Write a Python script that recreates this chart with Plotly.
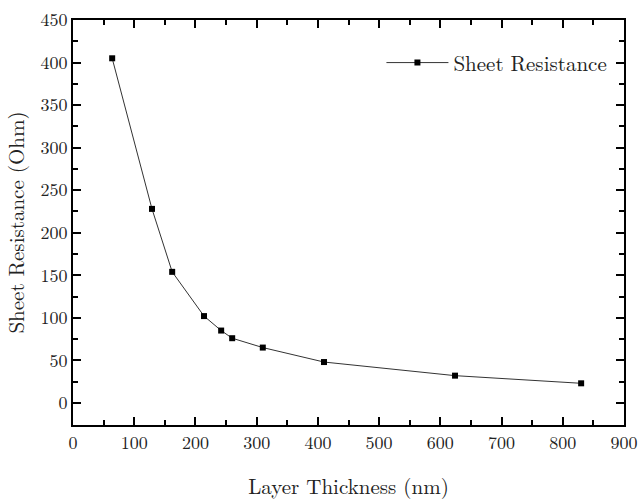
import plotly.graph_objects as go

thickness = [64, 129, 162, 214, 242, 260, 310, 410, 624, 830]
resistance = [405, 228, 154, 102, 85, 76, 65, 48, 32, 23]
series_name = "Sheet Resistance"
x_title = "Layer Thickness (nm)"
y_title = "Sheet Resistance (Ohm)"

font_family = "Latin Modern Roman, Liberation Serif, serif"

fig = go.Figure()
fig.add_trace(go.Scatter(
    x=thickness, y=resistance, mode="lines+markers", name=series_name,
    line=dict(color="#333333", width=1),
    marker=dict(symbol="square", size=6, color="black"),
))

axis_common = dict(
    showline=True, linecolor="black", linewidth=2, mirror="ticks",
    ticks="inside", ticklen=8, tickwidth=1.5, tickcolor="black",
    showgrid=False, zeroline=False, automargin=False,
    tickfont=dict(family=font_family, size=18, color="#222"),
)

fig.update_xaxes(
    range=[0, 900], tick0=0, dtick=100,
    minor=dict(ticks="inside", ticklen=5, tickwidth=1.5, tickcolor="black", dtick=50, tick0=0),
    title=dict(text=x_title, font=dict(family=font_family, size=21, color="#222"), standoff=35),
    **axis_common,
)
fig.update_yaxes(
    range=[-26, 450], tick0=0, dtick=50,
    minor=dict(ticks="inside", ticklen=5, tickwidth=1.5, tickcolor="black", dtick=25, tick0=0),
    title=dict(text=y_title, font=dict(family=font_family, size=21, color="#222"), standoff=12),
    **axis_common,
)

fig.update_layout(
    width=638, height=500,
    margin=dict(l=73, r=14, t=20, b=75),
    plot_bgcolor="white", paper_bgcolor="white",
    font=dict(family=font_family, color="#222"),
    showlegend=True,
    legend=dict(x=0.979, y=0.894, xanchor="right", yanchor="middle",
                bgcolor="rgba(0,0,0,0)", borderwidth=0,
                font=dict(family=font_family, size=21, color="#222"),
                itemwidth=62),
)

fig.write_html("out.html")
